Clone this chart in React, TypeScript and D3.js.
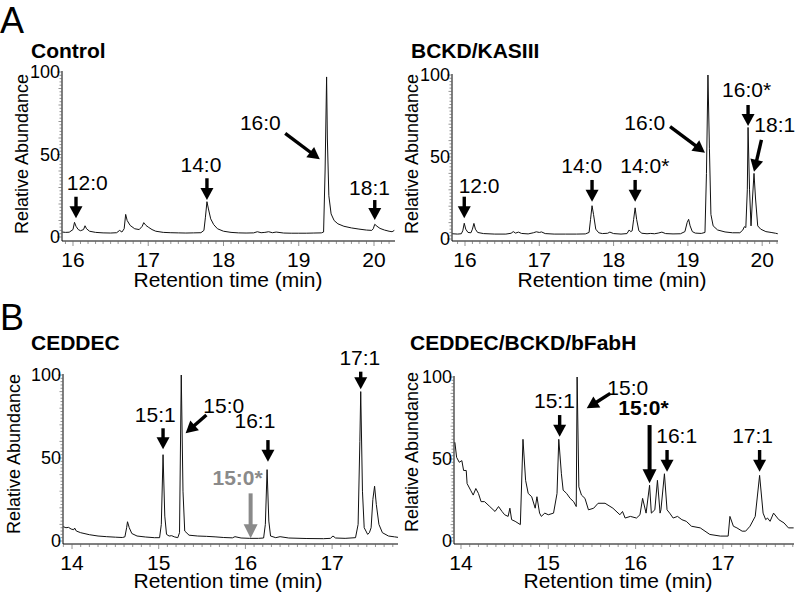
import React from 'react';
import * as d3 from 'd3';

// ---------- DATA ----------
const controlTrace: [number, number][] = [
  [15.86, 3.0], [15.9, 2.8], [15.95, 2.9], [16.0, 4.5], [16.02, 8.9], [16.04, 6.5], [16.07, 4.5], [16.1, 3.8],
  [16.14, 4.5], [16.16, 6.8], [16.18, 5.0], [16.22, 3.5], [16.3, 2.8], [16.4, 2.5], [16.5, 2.4], [16.58, 2.6],
  [16.62, 4.0], [16.65, 3.0], [16.68, 5.0], [16.7, 13.7], [16.72, 10], [16.76, 7], [16.82, 5], [16.88, 4.5],
  [16.92, 6.5], [16.94, 8.7], [16.97, 7], [17.0, 6], [17.05, 4.5], [17.1, 3.5], [17.2, 2.8], [17.3, 2.6],
  [17.4, 2.5], [17.5, 2.4], [17.6, 2.5], [17.7, 2.6], [17.74, 4], [17.76, 12], [17.78, 21.4], [17.8, 17],
  [17.83, 11], [17.87, 7.5], [17.92, 5], [18.0, 3.5], [18.1, 2.8], [18.2, 2.5], [18.3, 2.4], [18.4, 2.5],
  [18.45, 3.2], [18.5, 2.6], [18.55, 2.8], [18.6, 3.2], [18.65, 2.6], [18.7, 3.0], [18.8, 2.4], [18.9, 2.3],
  [19.0, 2.3], [19.1, 2.3], [19.2, 2.4], [19.3, 2.5], [19.33, 3], [19.35, 40], [19.37, 97], [19.38, 60],
  [19.4, 25], [19.43, 14], [19.47, 10], [19.52, 8], [19.6, 6.5], [19.7, 5.5], [19.8, 4.8], [19.9, 4.2],
  [19.97, 4], [19.99, 5], [20.01, 7.7], [20.04, 6.5], [20.08, 5.2], [20.14, 4.2], [20.2, 3.5], [20.24, 3.2],
  [20.27, 4.0],
];

const bckdKasTrace: [number, number][] = [
  [15.83, 3.2], [15.9, 3.0], [15.95, 3.2], [15.97, 5], [15.99, 9.6], [16.01, 6], [16.04, 4], [16.08, 3.8],
  [16.1, 6], [16.12, 9.5], [16.14, 6], [16.17, 4], [16.25, 3.3], [16.4, 3.0], [16.55, 3.0], [16.62, 3.5],
  [16.65, 4.5], [16.68, 3.6], [16.72, 4.2], [16.76, 3.4], [16.85, 3.1], [16.92, 3.8], [16.96, 4.4], [17.0, 4.0],
  [17.03, 4.3], [17.08, 3.3], [17.2, 3.0], [17.35, 3.0], [17.5, 3.0], [17.62, 3.1], [17.67, 4], [17.69, 12],
  [17.71, 20.3], [17.73, 15], [17.76, 6], [17.8, 3.8], [17.85, 3.3], [17.92, 3.5], [17.95, 4.2], [18.0, 3.3],
  [18.1, 3.0], [18.18, 3.3], [18.21, 5.5], [18.23, 4.5], [18.25, 5], [18.27, 12], [18.29, 19], [18.31, 12],
  [18.34, 5], [18.38, 3.5], [18.45, 3.2], [18.5, 3.4], [18.55, 3.2], [18.6, 3.6], [18.65, 4.2], [18.7, 3.3],
  [18.8, 3.1], [18.9, 3.2], [18.96, 4.5], [18.99, 10], [19.01, 12], [19.03, 8], [19.06, 4.5], [19.1, 3.6],
  [19.18, 3.4], [19.23, 4], [19.25, 40], [19.27, 100], [19.29, 55], [19.31, 15], [19.34, 8], [19.4, 5.5],
  [19.5, 4.3], [19.6, 3.8], [19.7, 3.8], [19.74, 5.5], [19.76, 7.5], [19.78, 7], [19.8, 30], [19.81, 68],
  [19.83, 30], [19.85, 8], [19.87, 25], [19.89, 40], [19.91, 25], [19.94, 8], [19.98, 6], [20.05, 4.5],
  [20.12, 4], [20.18, 3.5], [20.21, 3.2],
];

const ceddecTrace: [number, number][] = [
  [13.9, 8.6], [13.93, 8.0], [13.96, 8.2], [13.99, 7.2], [14.02, 6.8], [14.03, 7.8], [14.05, 6.0], [14.1, 5.0],
  [14.2, 3.8], [14.3, 3.0], [14.4, 2.6], [14.5, 2.3], [14.58, 2.1], [14.61, 2.5], [14.63, 8], [14.64, 11.6],
  [14.66, 8], [14.69, 4.5], [14.75, 3.0], [14.85, 2.4], [14.95, 2.0], [15.01, 2.0], [15.03, 10], [15.05, 52],
  [15.07, 15], [15.09, 4], [15.12, 3], [15.15, 3.2], [15.18, 2.5], [15.22, 2.0], [15.24, 5], [15.26, 100],
  [15.28, 30], [15.3, 6], [15.35, 3.5], [15.45, 3.0], [15.55, 2.8], [15.65, 2.5], [15.75, 2.1], [15.85, 1.9],
  [15.88, 2.6], [15.95, 1.8], [16.05, 1.6], [16.15, 1.6], [16.21, 1.8], [16.23, 10], [16.25, 43], [16.27, 12],
  [16.29, 3], [16.35, 2.0], [16.4, 2.6], [16.5, 1.8], [16.7, 1.5], [16.9, 1.4], [16.98, 1.6], [17.01, 3.0],
  [17.04, 1.8], [17.15, 1.6], [17.27, 2.0], [17.3, 10], [17.32, 60], [17.33, 90], [17.35, 30], [17.37, 8],
  [17.39, 6], [17.41, 4], [17.43, 5], [17.45, 8], [17.47, 25], [17.49, 33], [17.51, 22], [17.54, 10],
  [17.58, 5], [17.65, 3.0], [17.72, 2.5], [17.76, 2.2],
];

const ceddecBckdTrace: [number, number][] = [
  [13.93, 60.2], [13.95, 51], [13.98, 48], [14.01, 49], [14.03, 43], [14.06, 43], [14.07, 35], [14.11, 31],
  [14.14, 28], [14.17, 32], [14.2, 29], [14.23, 24], [14.27, 24], [14.33, 21], [14.39, 18], [14.43, 21],
  [14.47, 18], [14.5, 16], [14.54, 15], [14.56, 20], [14.58, 13], [14.62, 12], [14.68, 10], [14.71, 62],
  [14.74, 37], [14.77, 29], [14.81, 27], [14.85, 20], [14.87, 27], [14.9, 17], [14.92, 15], [14.96, 17],
  [15.0, 16], [15.06, 17], [15.1, 29], [15.12, 62], [15.15, 41], [15.17, 31], [15.21, 29], [15.25, 26],
  [15.29, 24], [15.32, 21], [15.33, 100], [15.35, 33], [15.38, 28], [15.42, 26], [15.46, 19], [15.52, 20],
  [15.57, 23], [15.65, 23], [15.74, 20], [15.82, 16], [15.85, 18], [15.88, 14], [15.94, 15], [16.01, 14],
  [16.05, 16], [16.08, 26], [16.12, 17], [16.16, 34], [16.18, 17], [16.22, 19], [16.25, 37], [16.28, 17],
  [16.29, 19], [16.33, 41], [16.36, 19], [16.39, 17], [16.43, 14], [16.48, 15], [16.53, 13], [16.58, 12],
  [16.64, 9], [16.74, 8], [16.85, 4], [16.97, 3], [17.06, 3], [17.08, 15], [17.12, 9], [17.16, 8],
  [17.22, 6], [17.26, 6], [17.31, 9], [17.37, 15], [17.42, 40], [17.46, 17], [17.49, 13], [17.51, 14],
  [17.54, 12], [17.58, 17], [17.64, 13], [17.7, 11], [17.75, 8], [17.81, 8],
];

const yTickValues = [0, 50, 100];
const panelAXTicks = [16, 17, 18, 19, 20];
const panelBXTicks = [14, 15, 16, 17];

type Ann = { text: string; lt: number; lv: number; t0: number; v0: number; t1: number; v1: number; bold?: boolean; gray?: boolean; heavy?: boolean };

const controlAnnotations: Ann[] = [
  { text: '12:0', lt: 16.19, lv: 28.5, t0: 16.04, v0: 24.4, t1: 16.04, v1: 11.3 },
  { text: '14:0', lt: 17.7, lv: 39.6, t0: 17.78, v0: 35.6, t1: 17.78, v1: 22.4 },
  { text: '16:0', lt: 18.49, lv: 64.8, t0: 18.82, v0: 62.8, t1: 19.28, v1: 47.1 },
  { text: '18:1', lt: 19.94, lv: 25.5, t0: 20.01, v0: 22.4, t1: 20.01, v1: 10.3 },
];
const bckdKasAnnotations: Ann[] = [
  { text: '12:0', lt: 16.19, lv: 27.9, t0: 15.99, v0: 25.8, t1: 15.99, v1: 12.6 },
  { text: '14:0', lt: 17.57, lv: 40.1, t0: 17.71, v0: 36, t1: 17.71, v1: 22.7 },
  { text: '14:0*', lt: 18.42, lv: 40.1, t0: 18.29, v0: 36, t1: 18.29, v1: 22.7 },
  { text: '16:0', lt: 18.42, lv: 66.5, t0: 18.76, v0: 68.5, t1: 19.23, v1: 52.6 },
  { text: '16:0*', lt: 19.79, lv: 86.8, t0: 19.81, v0: 81.7, t1: 19.81, v1: 68.9 },
  { text: '18:1', lt: 20.17, lv: 65.4, t0: 19.99, v0: 60.4, t1: 19.89, v1: 41 },
];
const ceddecAnnotations: Ann[] = [
  { text: '17:1', lt: 17.32, lv: 106, t0: 17.33, v0: 102, t1: 17.33, v1: 91.4 },
  { text: '15:1', lt: 14.96, lv: 71.9, t0: 15.05, v0: 67.9, t1: 15.05, v1: 55.2 },
  { text: '15:0', lt: 15.75, lv: 76.9, t0: 15.55, v0: 75.9, t1: 15.31, v1: 64.9 },
  { text: '16:1', lt: 16.11, lv: 67.9, t0: 16.26, v0: 60.8, t1: 16.26, v1: 47.8 },
  { text: '15:0*', lt: 15.91, lv: 33.7, t0: 16.06, v0: 28.7, t1: 16.06, v1: 1.6, bold: true, gray: true, heavy: true },
];
const ceddecBckdAnnotations: Ann[] = [
  { text: '15:1', lt: 15.07, lv: 81.1, t0: 15.13, v0: 76.8, t1: 15.13, v1: 63.6 },
  { text: '15:0', lt: 15.91, lv: 89, t0: 15.71, v0: 90, t1: 15.44, v1: 80.9 },
  { text: '15:0*', lt: 16.09, lv: 76.8, t0: 16.16, v0: 70.7, t1: 16.16, v1: 35.2, bold: true, heavy: true },
  { text: '16:1', lt: 16.47, lv: 59.6, t0: 16.36, v0: 55.5, t1: 16.36, v1: 42.3 },
  { text: '17:1', lt: 17.34, lv: 59.6, t0: 17.42, v0: 55.5, t1: 17.42, v1: 42.3 },
];

// ---------- LAYOUT ----------
const FONT = '"Liberation Sans", Arial, Helvetica, sans-serif';

type PanelCfg = {
  title: string; trace: [number, number][]; ann: Ann[]; xTicks: number[]; xDomain: [number, number];
  left: number; right: number; y0: number; y100: number; axisY: number; titleX: number; titleY: number;
  yLabelX: number; yLabelY: number; xTitleX: number; xTitleY: number;
};

const panels: PanelCfg[] = [
  { title: 'Control', trace: controlTrace, ann: controlAnnotations, xTicks: panelAXTicks, xDomain: [15.854, 20.279],
    left: 62, right: 395, y0: 237, y100: 72, axisY: 241, titleX: 31, titleY: 58, yLabelX: 28, yLabelY: 154, xTitleX: 228, xTitleY: 287 },
  { title: 'BCKD/KASIII', trace: bckdKasTrace, ann: bckdKasAnnotations, xTicks: panelAXTicks, xDomain: [15.825, 20.213],
    left: 452, right: 778, y0: 239, y100: 75, axisY: 241, titleX: 411, titleY: 58, yLabelX: 418, yLabelY: 154, xTitleX: 612, xTitleY: 287 },
  { title: 'CEDDEC', trace: ceddecTrace, ann: ceddecAnnotations, xTicks: panelBXTicks, xDomain: [13.896, 17.76],
    left: 63, right: 398, y0: 541, y100: 375, axisY: 544, titleX: 31, titleY: 350, yLabelX: 20, yLabelY: 454, xTitleX: 228, xTitleY: 588 },
  { title: 'CEDDEC/BCKD/bFabH', trace: ceddecBckdTrace, ann: ceddecBckdAnnotations, xTicks: panelBXTicks, xDomain: [13.92, 17.814],
    left: 454, right: 794, y0: 541, y100: 377, axisY: 544, titleX: 410, titleY: 350, yLabelX: 418, yLabelY: 452, xTitleX: 618, xTitleY: 588 },
];

function Arrow({ x0, y0, x1, y1, color, heavy }: { x0: number; y0: number; x1: number; y1: number; color: string; heavy?: boolean }) {
  const w = heavy ? 4 : 3.4;
  const hw = heavy ? 14 : 13;
  const hl = heavy ? 14 : 12;
  const dx = x1 - x0, dy = y1 - y0;
  const L = Math.hypot(dx, dy);
  const ux = dx / L, uy = dy / L;
  const bx = x1 - ux * hl, by = y1 - uy * hl;
  const px = -uy, py = ux;
  return (
    <g>
      <line x1={x0} y1={y0} x2={bx + ux * 1.5} y2={by + uy * 1.5} stroke={color} strokeWidth={w} />
      <polygon points={`${x1},${y1} ${bx + (px * hw) / 2},${by + (py * hw) / 2} ${bx - (px * hw) / 2},${by - (py * hw) / 2}`} fill={color} />
    </g>
  );
}

function Panel({ p }: { p: PanelCfg }) {
  const x = d3.scaleLinear().domain(p.xDomain).range([p.left, p.right]);
  const y = d3.scaleLinear().domain([0, 100]).range([p.y0, p.y100]);
  const line = d3.line<[number, number]>().x((d) => x(d[0])).y((d) => y(d[1]));
  const minorX = d3.range(Math.ceil(p.xDomain[0] * 10), Math.floor(p.xDomain[1] * 10) + 1).map((v) => v / 10);
  const minorY = d3.range(0, 101, 2);
  return (
    <g>
      <text x={p.titleX} y={p.titleY} fontFamily={FONT} fontWeight="bold" fontSize={21}>{p.title}</text>
      {/* y axis */}
      <line x1={p.left} x2={p.left} y1={p.y100 - 1} y2={p.axisY} stroke="#000" strokeWidth={1} />
      {minorY.map((v) => {
        const len = v % 50 === 0 ? 5 : v % 10 === 0 ? 3.5 : 2.5;
        return <line key={'yt' + v} x1={p.left - len} x2={p.left} y1={y(v)} y2={y(v)} stroke="#666" strokeWidth={0.7} />;
      })}
      {yTickValues.map((v) => (
        <text key={'yl' + v} x={p.left - 2} y={y(v)} dy="0.36em" textAnchor="end" fontFamily={FONT} fontSize={18}>{v}</text>
      ))}
      <text transform={`translate(${p.yLabelX},${p.yLabelY}) rotate(-90)`} textAnchor="middle" fontFamily={FONT} fontSize={18}>Relative Abundance</text>
      {/* x axis */}
      <line x1={p.left} x2={p.right} y1={p.axisY} y2={p.axisY} stroke="#000" strokeWidth={1} />
      {minorX.map((v) => {
        const isMajor = Math.abs(v - Math.round(v)) < 1e-6;
        return <line key={'xt' + v} x1={x(v)} x2={x(v)} y1={p.axisY} y2={p.axisY + (isMajor ? 5 : 3)} stroke="#666" strokeWidth={0.7} />;
      })}
      {p.xTicks.map((v) => (
        <text key={'xl' + v} x={x(v)} y={p.axisY + 26} textAnchor="middle" fontFamily={FONT} fontSize={21}>{v}</text>
      ))}
      <text x={p.xTitleX} y={p.xTitleY} textAnchor="middle" fontFamily={FONT} fontSize={21}>Retention time (min)</text>
      {/* trace */}
      <path d={line(p.trace) || ''} fill="none" stroke="#111" strokeWidth={1} strokeLinejoin="round" />
      {/* annotations */}
      {p.ann.map((a, i) => {
        const color = a.gray ? '#8a8a8a' : '#000';
        return (
          <g key={'an' + i}>
            <text x={x(a.lt)} y={y(a.lv)} textAnchor="middle" fontFamily={FONT} fontSize={21} fontWeight={a.bold ? 'bold' : 'normal'} fill={color}>{a.text}</text>
            <Arrow x0={x(a.t0)} y0={y(a.v0)} x1={x(a.t1)} y1={y(a.v1)} color={color} heavy={a.heavy} />
          </g>
        );
      })}
    </g>
  );
}

export default function App() {
  return (
    <svg width={796} height={598} viewBox="0 0 796 598" style={{ position: 'absolute', left: 0, top: 0, background: '#fff' }}>
      <rect width={796} height={598} fill="#fff" />
      <text x={0} y={33} fontFamily={FONT} fontSize={36}>A</text>
      <text x={0} y={330} fontFamily={FONT} fontSize={36}>B</text>
      {panels.map((p, i) => <Panel key={i} p={p} />)}
    </svg>
  );
}
